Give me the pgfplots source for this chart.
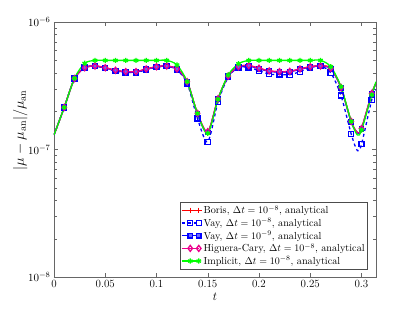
\documentclass[border=0pt]{standalone}
\usepackage{pgfplots}
\pgfplotsset{compat=1.18}
\usepackage{amsmath}
\begin{document}
\begin{tikzpicture}[x=1pt,y=1pt]
\begin{axis}[
  scale only axis, width=322pt, height=255pt,
  xmin=0, xmax=0.31416, ymin=1e-8, ymax=1e-6, ymode=log,
  xtick={0,0.05,0.1,0.15,0.2,0.25,0.3},
  xticklabels={0,0.05,0.1,0.15,0.2,0.25,0.3},
  ytick={1e-8,1e-7,1e-6},
  tick align=inside, xtick pos=both, ytick pos=both,
  tick label style={font=\fontsize{11}{13}\selectfont},
  minor x tick num=0,
  xlabel={$t$}, ylabel={$|\mu-\mu_{\mathrm{an}}|/\mu_{\mathrm{an}}$},
  xlabel style={font=\fontsize{12}{14}\selectfont, yshift=2pt},
  ylabel style={font=\fontsize{14}{16}\selectfont, at={(axis description cs:-0.105,0.575)}, anchor=center},
  axis line style={black!60, line width=0.5pt},
  major tick style={black!60},
  minor tick style={black!60},
  legend style={at={(0.975,0.031)}, anchor=south east, font=\fontsize{10.2}{12}\selectfont,
    draw=black!70, line width=0.5pt, inner sep=1pt, row sep=-1pt, cells={anchor=west}},
  legend cell align=left,
  every axis plot/.append style={line width=1.3pt, smooth, tension=0.5},
]
% Boris
\addplot[red, mark=+, mark size=2.8pt, mark indices={2,...,30,32,33}] coordinates {
(0,1.3e-7)(0.01,2.14e-7)(0.02,3.6e-7)(0.03,4.38e-7)(0.04,4.52e-7)(0.05,4.38e-7)(0.06,4.18e-7)(0.07,4.08e-7)(0.08,4.08e-7)(0.09,4.28e-7)(0.10,4.46e-7)(0.11,4.52e-7)(0.12,4.28e-7)(0.13,3.4e-7)(0.14,1.92e-7)(0.15,1.38e-7)(0.16,2.5e-7)(0.17,3.77e-7)(0.18,4.46e-7)(0.19,4.55e-7)(0.20,4.34e-7)(0.21,4.13e-7)(0.22,4.08e-7)(0.23,4.1e-7)(0.24,4.28e-7)(0.25,4.46e-7)(0.26,4.52e-7)(0.27,4.34e-7)(0.28,3.07e-7)(0.29,1.66e-7)(0.296,1.36e-7)(0.30,1.46e-7)(0.31,2.75e-7)(0.31416,3.3e-7)};
\addlegendentry{Boris, $\Delta t=10^{-8}$, analytical}
% Vay 1e-8
\addplot[blue, dashed, mark=square, mark size=2.6pt, mark options={solid}, mark indices={2,...,30,32,33}] coordinates {
(0,1.3e-7)(0.01,2.14e-7)(0.02,3.6e-7)(0.03,4.38e-7)(0.04,4.5e-7)(0.05,4.35e-7)(0.06,4.12e-7)(0.07,4.03e-7)(0.08,4.03e-7)(0.09,4.22e-7)(0.10,4.42e-7)(0.11,4.5e-7)(0.12,4.2e-7)(0.13,3.3e-7)(0.14,1.75e-7)(0.15,1.15e-7)(0.16,2.35e-7)(0.17,3.7e-7)(0.18,4.4e-7)(0.19,4.4e-7)(0.20,4.15e-7)(0.21,3.9e-7)(0.22,3.88e-7)(0.23,3.86e-7)(0.24,4.08e-7)(0.25,4.38e-7)(0.26,4.5e-7)(0.27,4.0e-7)(0.28,2.65e-7)(0.29,1.32e-7)(0.296,0.98e-7)(0.30,1.1e-7)(0.31,2.45e-7)(0.31416,2.95e-7)};
\addlegendentry{Vay, $\Delta t=10^{-8}$, analytical}
% Vay 1e-9
\addplot[blue, mark=square*, mark size=2.3pt, mark options={fill=blue!60}, mark indices={2,...,30,32,33}] coordinates {
(0,1.3e-7)(0.01,2.14e-7)(0.02,3.6e-7)(0.03,4.38e-7)(0.04,4.5e-7)(0.05,4.36e-7)(0.06,4.15e-7)(0.07,4.05e-7)(0.08,4.05e-7)(0.09,4.25e-7)(0.10,4.44e-7)(0.11,4.5e-7)(0.12,4.25e-7)(0.13,3.38e-7)(0.14,1.9e-7)(0.15,1.36e-7)(0.16,2.48e-7)(0.17,3.75e-7)(0.18,4.44e-7)(0.19,4.52e-7)(0.20,4.3e-7)(0.21,4.1e-7)(0.22,4.05e-7)(0.23,4.08e-7)(0.24,4.25e-7)(0.25,4.44e-7)(0.26,4.5e-7)(0.27,4.3e-7)(0.28,3.05e-7)(0.29,1.64e-7)(0.296,1.35e-7)(0.30,1.44e-7)(0.31,2.72e-7)(0.31416,3.28e-7)};
\addlegendentry{Vay, $\Delta t=10^{-9}$, analytical}
% Higuera-Cary
\addplot[magenta, mark=diamond, mark size=3pt, mark indices={2,...,30,32,33}] coordinates {
(0,1.3e-7)(0.01,2.14e-7)(0.02,3.6e-7)(0.03,4.38e-7)(0.04,4.52e-7)(0.05,4.38e-7)(0.06,4.18e-7)(0.07,4.08e-7)(0.08,4.08e-7)(0.09,4.28e-7)(0.10,4.46e-7)(0.11,4.52e-7)(0.12,4.28e-7)(0.13,3.4e-7)(0.14,1.92e-7)(0.15,1.38e-7)(0.16,2.5e-7)(0.17,3.77e-7)(0.18,4.46e-7)(0.19,4.55e-7)(0.20,4.34e-7)(0.21,4.13e-7)(0.22,4.08e-7)(0.23,4.1e-7)(0.24,4.28e-7)(0.25,4.46e-7)(0.26,4.52e-7)(0.27,4.34e-7)(0.28,3.07e-7)(0.29,1.66e-7)(0.296,1.36e-7)(0.30,1.46e-7)(0.31,2.75e-7)(0.31416,3.3e-7)};
\addlegendentry{Higuera-Cary, $\Delta t=10^{-8}$, analytical}
% Implicit
\addplot[green, mark=asterisk, mark size=2.6pt, mark indices={2,...,30,32,33}] coordinates {
(0,1.3e-7)(0.01,2.14e-7)(0.02,3.62e-7)(0.03,4.74e-7)(0.04,5.0e-7)(0.05,5.0e-7)(0.06,5.0e-7)(0.07,5.0e-7)(0.08,5.0e-7)(0.09,5.0e-7)(0.10,5.0e-7)(0.11,5.0e-7)(0.12,4.6e-7)(0.13,3.4e-7)(0.14,1.92e-7)(0.15,1.34e-7)(0.16,2.48e-7)(0.17,3.84e-7)(0.18,4.7e-7)(0.19,5.0e-7)(0.20,5.0e-7)(0.21,5.0e-7)(0.22,5.0e-7)(0.23,5.0e-7)(0.24,5.0e-7)(0.25,5.0e-7)(0.26,5.0e-7)(0.27,4.46e-7)(0.28,3.11e-7)(0.29,1.66e-7)(0.296,1.3e-7)(0.30,1.42e-7)(0.31,2.68e-7)(0.31416,3.4e-7)};
\addlegendentry{Implicit, $\Delta t=10^{-8}$, analytical}
\end{axis}
\useasboundingbox (-54pt,-35pt) rectangle (361pt,277pt);
\end{tikzpicture}
\end{document}
